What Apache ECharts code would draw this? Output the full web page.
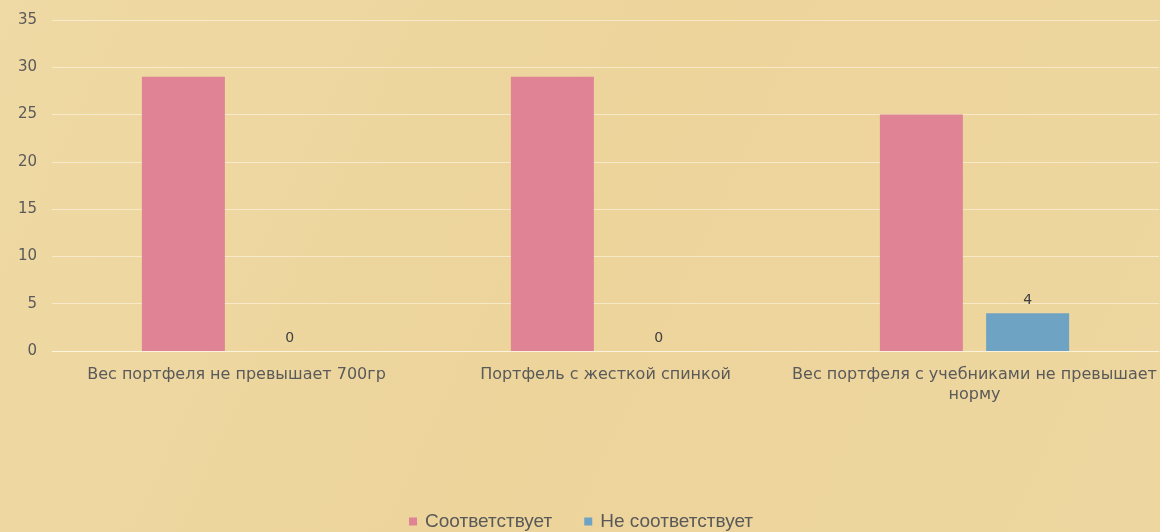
<!DOCTYPE html>
<html>
<head>
<meta charset="utf-8">
<script src="https://cdn.jsdelivr.net/npm/echarts@6/dist/echarts.min.js"></script>
<style>
html,body{margin:0;padding:0;background:#ecd49c;}
#c{width:1160px;height:532px;}
</style>
</head>
<body>
<div id="c"></div>
<script>
const categories = ['Вес портфеля не превышает 700гр', 'Портфель с жесткой спинкой', 'Вес портфеля с учебниками не превышает\nнорму'];
const seriesNames = ['Соответствует', 'Не соответствует'];
const matches = [29, 29, 25];
const notMatches = [0, 0, 4];
const yTicks = { min: 0, max: 35, interval: 5 };

const chart = echarts.init(document.getElementById('c'));
chart.setOption({
  backgroundColor: {
    type: 'linear', x: 0, y: 0, x2: 1, y2: 1,
    colorStops: [
      { offset: 0, color: '#efd9a4' },
      { offset: 0.5, color: '#ecd49b' },
      { offset: 1, color: '#eed6a0' }
    ]
  },
  animation: false,
  grid: { left: 52, right: 1, top: 20, bottom: 181, containLabel: false },
  legend: {
    top: 507,
    left: 404,
    itemWidth: 8,
    itemHeight: 8,
    itemGap: 32,
    icon: 'rect',
    textStyle: { fontSize: 19, color: '#595959', fontFamily: '"Liberation Sans", Arial, sans-serif', padding: [0, 0, 0, 3] },
    data: seriesNames
  },
  xAxis: {
    type: 'category',
    data: categories,
    axisLine: { show: true, lineStyle: { color: 'rgba(255,250,235,0.6)', width: 1 } },
    axisTick: { show: false },
    axisLabel: {
      interval: 0,
      color: '#5a5a5a',
      fontSize: 16,
      fontFamily: '"DejaVu Sans", sans-serif',
      lineHeight: 20,
      margin: 14
    }
  },
  yAxis: {
    type: 'value',
    min: yTicks.min, max: yTicks.max, interval: yTicks.interval,
    axisLine: { show: false },
    axisTick: { show: false },
    axisLabel: { color: '#5a5a5a', fontSize: 15, fontFamily: '"DejaVu Sans", sans-serif', margin: 15 },
    splitLine: { lineStyle: { color: 'rgba(255,250,235,0.55)', width: 1 } }
  },
  series: [
    {
      name: seriesNames[0], type: 'bar', data: matches,
      barWidth: 83, barGap: '28%',
      itemStyle: { color: '#e08394' },
      label: { show: false }
    },
    {
      name: seriesNames[1], type: 'bar', data: notMatches,
      barWidth: 83,
      itemStyle: { color: '#6fa3c3' },
      label: { show: true, position: 'top', distance: 6, color: '#404040', fontSize: 14, fontFamily: '"DejaVu Sans", sans-serif' }
    }
  ]
});
</script>
</body>
</html>
